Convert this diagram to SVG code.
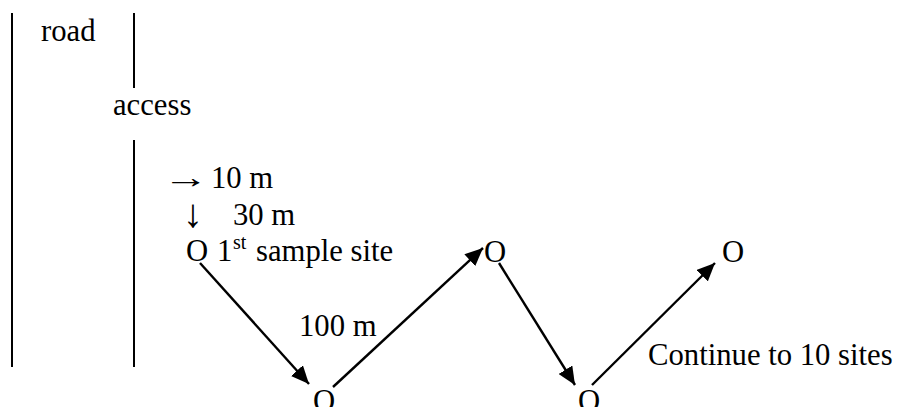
<svg xmlns="http://www.w3.org/2000/svg" width="906" height="407" viewBox="0 0 906 407">
<style>
text{font-family:'Liberation Serif','Times New Roman',Tinos,'DejaVu Serif',serif;font-size:30.7px;fill:#000}
.sup{font-size:20px}
.big{font-size:40px}
.rule{stroke:#000;stroke-width:2}
.conn{stroke:#000;stroke-width:2.4;fill:none;marker-end:url(#ah)}
</style>
<defs>
<marker id="ah" markerUnits="userSpaceOnUse" markerWidth="20" markerHeight="16" viewBox="0 0 20 16" refX="18" refY="8" orient="auto">
<path d="M0,0 L18,8 L0,16 Z" fill="#000"/>
</marker>
</defs>
<rect width="906" height="407" fill="#fff"/>
<g id="road-lines">
<line class="rule" x1="12" y1="13" x2="12" y2="367"/>
<line class="rule" x1="134" y1="13" x2="134" y2="88"/>
<line class="rule" x1="134" y1="140" x2="134" y2="367"/>
</g>
<g id="labels">
<text x="41" y="41">road</text>
<text x="113" y="115">access</text>
<text transform="translate(163,188) scale(1.5,1)" x="0" y="0">→</text>
<text x="211" y="188">10 m</text>
<text class="big" x="183" y="227">↓</text>
<text x="233" y="225">30 m</text>
<text x="299" y="336">100 m</text>
<text x="648" y="365">Continue to 10 sites</text>
</g>
<g id="site1"><text x="186" y="261">O</text><text x="217" y="261">1</text><text class="sup" x="233" y="249">st</text><text x="256" y="261">sample site</text></g>
<g id="site2"><text x="313" y="411">O</text></g>
<g id="site3"><text x="484" y="262">O</text></g>
<g id="site4"><text x="578" y="411">O</text></g>
<g id="site5"><text x="722" y="262">O</text></g>
<g id="connectors">
<line class="conn" x1="200" y1="263" x2="309" y2="384"/>
<line class="conn" x1="333" y1="387" x2="483" y2="248"/>
<line class="conn" x1="499" y1="263" x2="575" y2="385"/>
<line class="conn" x1="592" y1="385" x2="715" y2="263"/>
</g>
</svg>
